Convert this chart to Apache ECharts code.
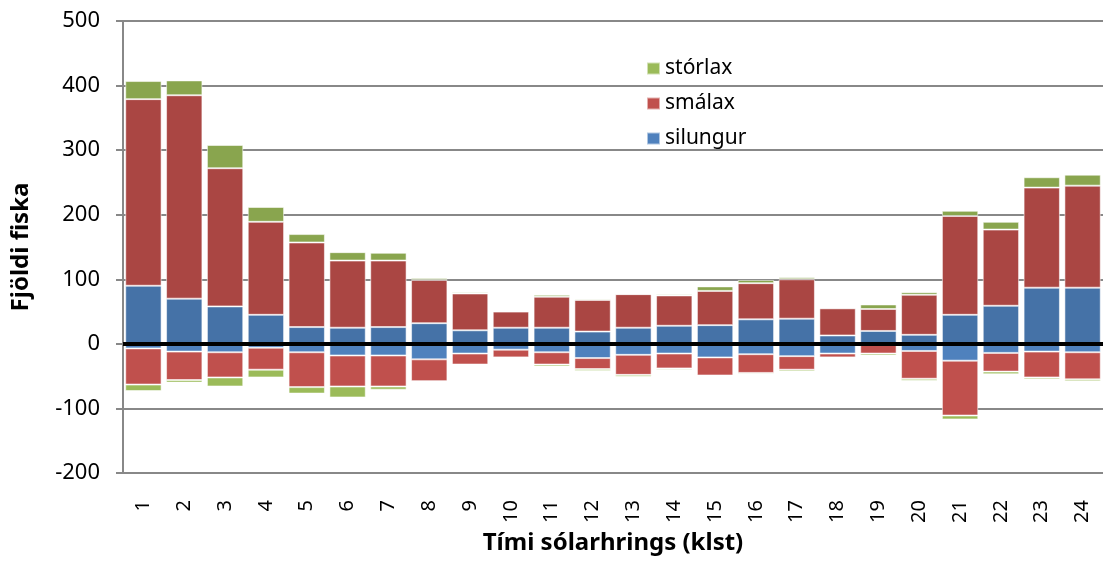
<!DOCTYPE html>
<html>
<head>
<meta charset="utf-8">
<title>Fjöldi fiska</title>
<script src="https://cdn.jsdelivr.net/npm/echarts@6/dist/echarts.min.js"></script>
<style>
  html, body { margin: 0; padding: 0; background: #fff; }
  #chart { width: 1103px; height: 567px; }
</style>
</head>
<body>
<div id="chart"></div>
<script>
// klukkustundir
var hours = ['1','2','3','4','5','6','7','8','9','10','11','12','13','14','15','16','17','18','19','20','21','22','23','24'];

// upp (jákvætt)
var silungurUp = [90, 70, 58, 45, 26, 25, 26, 32, 21, 25, 25, 19, 25, 28, 29, 38, 39, 13, 20, 14, 45, 59, 87, 87];
var smalaxUp   = [289, 315, 214, 144, 131, 104, 103, 67, 57, 25, 48, 49, 52, 47, 53, 56, 61, 42, 34, 62, 153, 118, 155, 158];
var storlaxUp  = [28, 23, 36, 23, 13, 13, 12, 3, 2, 0, 3, 2, 1, 2, 7, 5, 3, 1, 7, 4, 8, 12, 16, 17];

// niður (neikvætt)
var silungurDown = [-7, -12, -13, -6, -13, -18, -18, -24, -15, -9, -13, -22, -17, -15, -21, -16, -19, -15, 0, -11, -26, -14, -12, -13];
var smalaxDown   = [-56, -44, -39, -34, -54, -48, -48, -34, -17, -12, -19, -17, -31, -23, -28, -29, -21, -6, -15, -43, -85, -29, -40, -42];
var storlaxDown  = [-10, -4, -14, -12, -10, -17, -5, 0, 0, 0, -3, -3, -3, -2, 0, -2, -3, 0, -3, -3, -6, -4, -3, -3];

var chart = echarts.init(document.getElementById('chart'));

var font = 'Noto Sans';
var border = { borderColor: 'rgba(255,255,255,0.55)', borderWidth: 1 };

function bar(name, data, color, extra) {
  var s = {
    name: name,
    type: 'bar',
    stack: 'fiskar',
    data: data,
    barCategoryGap: '11%',
    itemStyle: Object.assign({ color: color }, border),
    emphasis: { disabled: true }
  };
  return Object.assign(s, extra || {});
}

chart.setOption({
  animation: false,
  textStyle: { fontFamily: font },
  grid: { left: 123, right: 0, top: 21, bottom: 94, outerBoundsMode: 'none', containLabel: false },
  legend: {
    orient: 'vertical',
    left: 641,
    top: 53,
    itemWidth: 13,
    itemHeight: 12,
    itemGap: 14,
    icon: 'rect',
    textStyle: { fontSize: 21, color: '#000', fontFamily: font },
    data: [
      { name: 'stórlax', itemStyle: { color: '#9BBB59' } },
      { name: 'smálax', itemStyle: { color: '#C0504D' } },
      { name: 'silungur', itemStyle: { color: '#4F81BD' } }
    ]
  },
  xAxis: {
    type: 'category',
    data: hours,
    name: 'Tími sólarhrings (klst)',
    nameLocation: 'middle',
    nameGap: 58,
    nameTextStyle: { fontSize: 24, fontWeight: 'bold', color: '#000' },
    axisLine: { onZero: false, lineStyle: { color: '#888', width: 2 } },
    axisTick: { show: false },
    axisLabel: { rotate: 90, fontSize: 20, color: '#000', margin: 27 }
  },
  yAxis: {
    type: 'value',
    min: -200,
    max: 500,
    interval: 100,
    name: 'Fjöldi fiska',
    nameLocation: 'middle',
    nameGap: 90,
    nameTextStyle: { fontSize: 24, fontWeight: 'bold', color: '#000' },
    axisLine: { show: true, lineStyle: { color: '#888', width: 2 } },
    axisTick: { show: true, inside: false, length: 7, lineStyle: { color: '#888', width: 2 } },
    axisLabel: { fontSize: 22, color: '#000', margin: 23 },
    splitLine: { lineStyle: { color: '#888', width: 2 } }
  },
  series: [
    bar('silungur', silungurUp, '#4572A7'),
    bar('smálax', smalaxUp, '#AA4643'),
    bar('stórlax', storlaxUp, '#89A54E'),
    bar('silungur', silungurDown, '#4F81BD'),
    bar('smálax', smalaxDown, '#C0504D'),
    bar('stórlax', storlaxDown, '#9BBB59', {
      markLine: {
        silent: true,
        symbol: 'none',
        label: { show: false },
        lineStyle: { color: '#000', width: 4, type: 'solid' },
        data: [{ yAxis: 0 }]
      }
    })
  ]
});
</script>
</body>
</html>
